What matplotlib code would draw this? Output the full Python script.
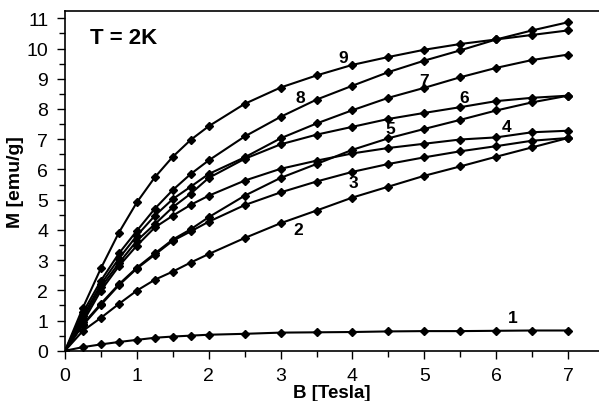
import matplotlib.pyplot as plt
from matplotlib.ticker import MultipleLocator

plt.rcParams['font.family'] = ['Liberation Sans', 'DejaVu Sans']

field = [0, 0.25, 0.5, 0.75, 1, 1.25, 1.5, 1.75, 2, 2.5, 3, 3.5, 4, 4.5, 5, 5.5, 6, 6.5, 7]

m1 = [0, 0.12, 0.21, 0.29, 0.36, 0.43, 0.47, 0.50, 0.53, 0.56, 0.60, 0.61, 0.62, 0.64, 0.65, 0.65, 0.66, 0.67, 0.67]
m2 = [0, 0.66, 1.09, 1.55, 1.99, 2.35, 2.62, 2.92, 3.20, 3.73, 4.22, 4.64, 5.07, 5.43, 5.79, 6.10, 6.42, 6.73, 7.04]
m3 = [0, 0.85, 1.52, 2.17, 2.72, 3.18, 3.64, 3.95, 4.27, 4.82, 5.24, 5.60, 5.92, 6.18, 6.40, 6.60, 6.77, 6.95, 7.04]
m4 = [0, 0.95, 1.99, 2.80, 3.48, 4.08, 4.47, 4.83, 5.13, 5.63, 6.02, 6.29, 6.53, 6.71, 6.85, 6.99, 7.06, 7.23, 7.28]
m5 = [0, 0.88, 1.56, 2.20, 2.75, 3.22, 3.68, 4.02, 4.42, 5.13, 5.72, 6.18, 6.65, 7.03, 7.34, 7.64, 7.95, 8.22, 8.44]
m6 = [0, 1.05, 2.10, 2.90, 3.64, 4.19, 4.75, 5.20, 5.72, 6.35, 6.83, 7.15, 7.41, 7.67, 7.87, 8.06, 8.26, 8.37, 8.44]
m7 = [0, 1.15, 2.20, 3.05, 3.81, 4.47, 5.02, 5.43, 5.85, 6.40, 7.03, 7.52, 7.96, 8.37, 8.70, 9.05, 9.36, 9.62, 9.80]
m8 = [0, 1.27, 2.32, 3.22, 3.97, 4.70, 5.32, 5.85, 6.30, 7.09, 7.74, 8.31, 8.77, 9.22, 9.60, 9.94, 10.30, 10.60, 10.87]
m9 = [0, 1.43, 2.73, 3.91, 4.91, 5.74, 6.42, 6.98, 7.43, 8.17, 8.71, 9.11, 9.46, 9.72, 9.96, 10.15, 10.30, 10.45, 10.60]

curves = [m1, m2, m3, m4, m5, m6, m7, m8, m9]
curve_labels = ['1', '2', '3', '4', '5', '6', '7', '8', '9']
label_pos = [(6.23, 1.09), (3.25, 4.0), (4.02, 5.56), (6.15, 7.42), (4.52, 7.35),
             (5.55, 8.38), (5.0, 8.94), (3.27, 8.38), (3.87, 9.7)]

fig = plt.figure(figsize=(5.99, 4.02), dpi=100)
ax = fig.add_axes([0.1085, 0.125, 0.8915, 0.845])

for m in curves:
    ax.plot(field, m, color='black', lw=1.5, marker='D', ms=4.2, zorder=3)

for lab, (x, y) in zip(curve_labels, label_pos):
    ax.text(x, y, lab, fontsize=12.5, fontweight='bold', ha='center', va='center')

ax.text(0.35, 10.38, 'T = 2K', fontsize=16, fontweight='bold', ha='left', va='center')

ax.set_xlim(0, 7.43)
ax.set_ylim(0, 11.24)
ax.xaxis.set_major_locator(MultipleLocator(1))
ax.xaxis.set_minor_locator(MultipleLocator(0.5))
ax.yaxis.set_major_locator(MultipleLocator(1))
ax.yaxis.set_minor_locator(MultipleLocator(0.5))
ax.tick_params(which='major', direction='out', length=6, width=1, labelsize=14, pad=6)
ax.tick_params(which='minor', direction='out', length=4, width=1)
ax.spines['right'].set_visible(False)
for s in ['left', 'bottom', 'top']:
    ax.spines[s].set_linewidth(1.2)

ax.set_xlabel('B [Tesla]', fontsize=13.5, fontweight='bold', labelpad=0)
ax.set_ylabel('M [emu/g]', fontsize=14, fontweight='bold', labelpad=2)

fig.savefig('out.png', dpi=100)
